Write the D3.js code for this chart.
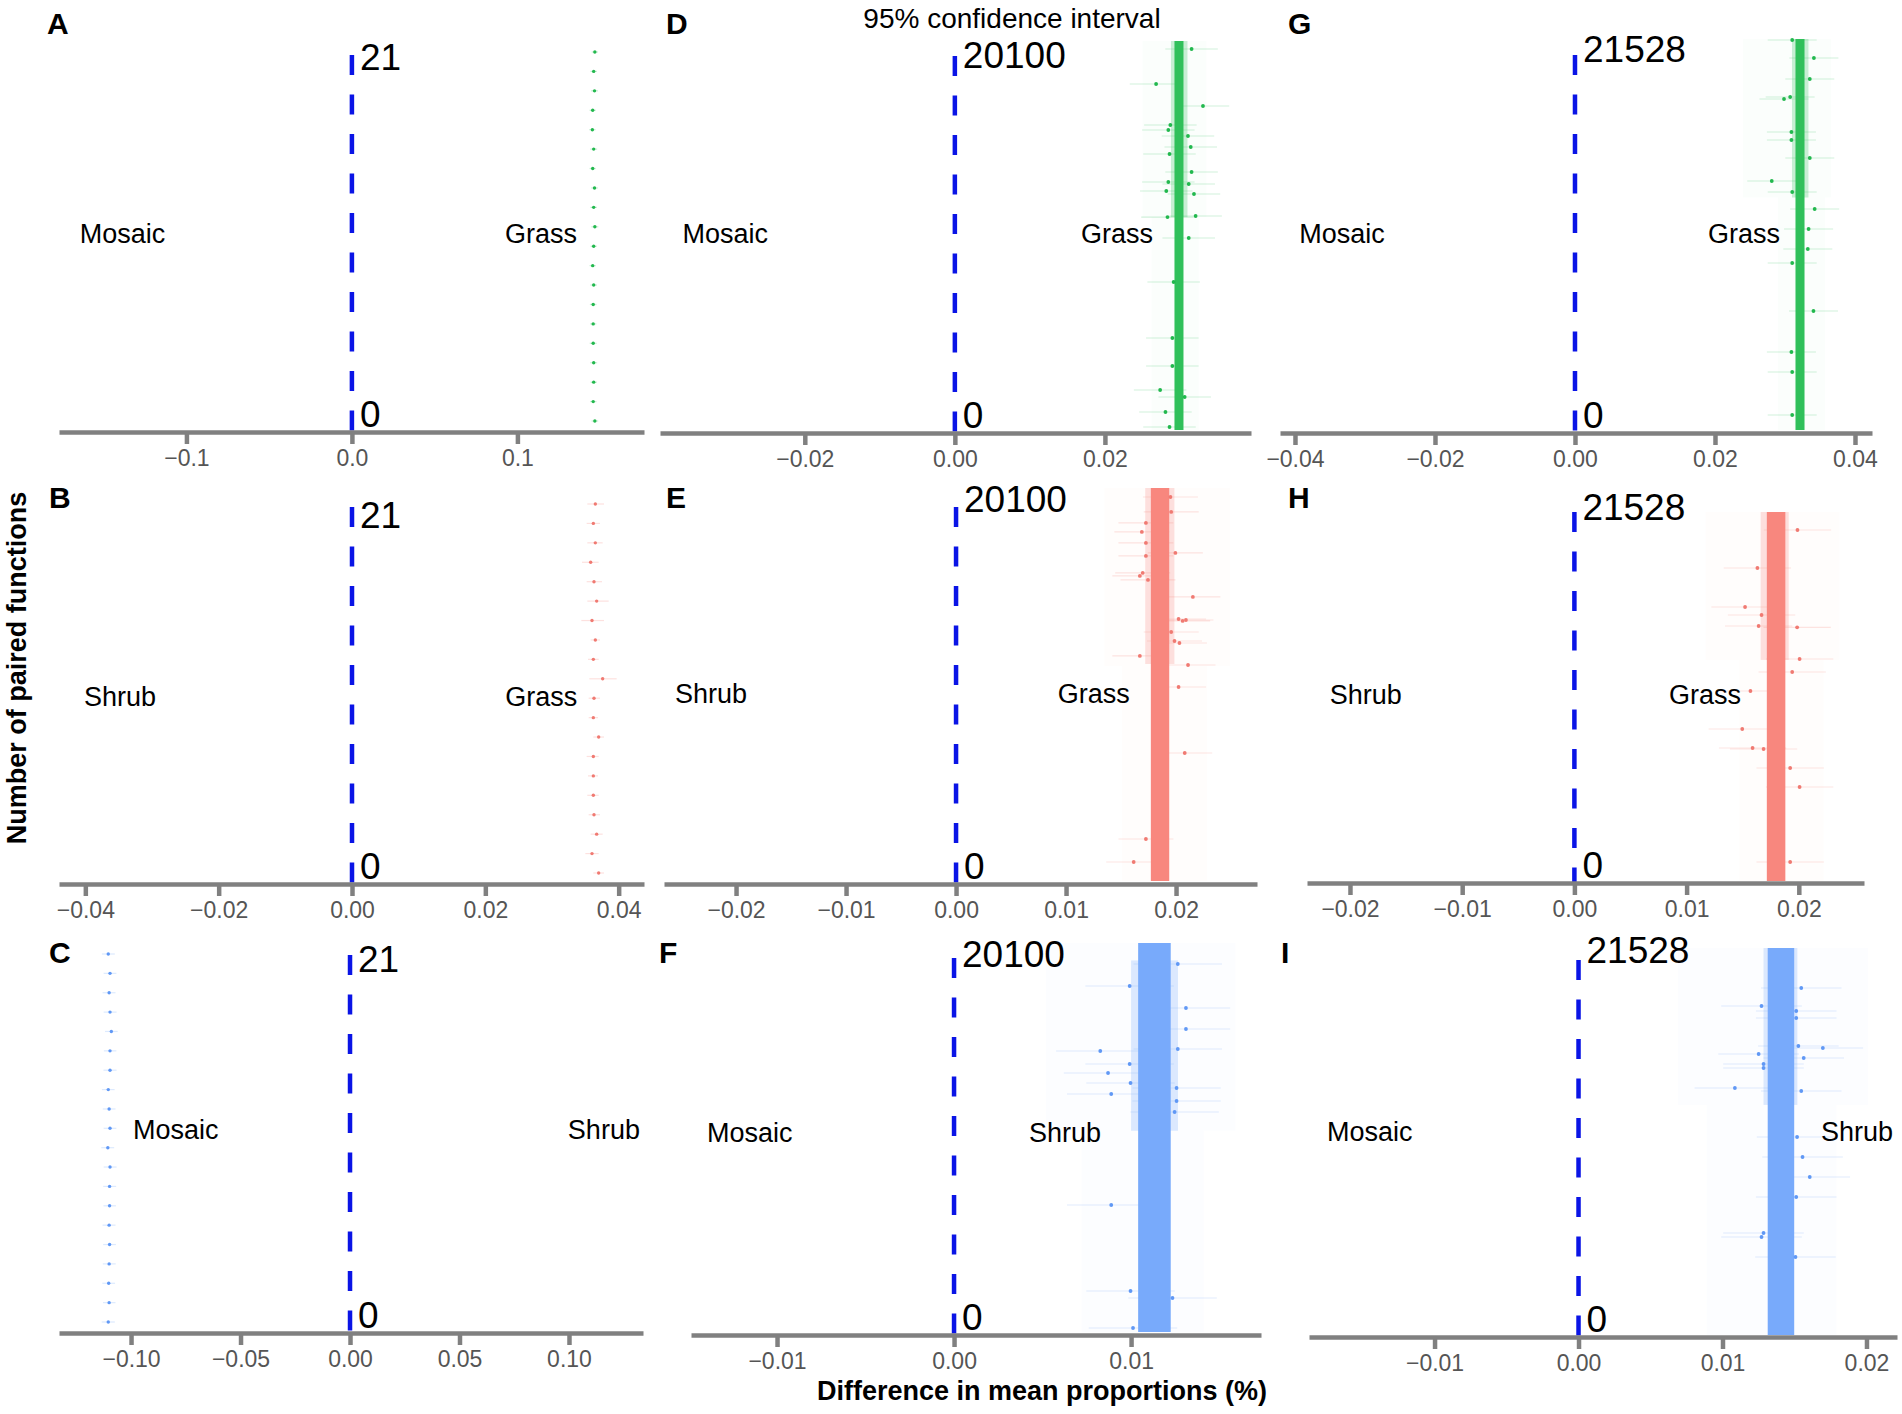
<!DOCTYPE html>
<html>
<head>
<meta charset="utf-8">
<script src="https://cdn.jsdelivr.net/npm/d3@7"></script>
<style>
  body { margin: 0; background: #fff; }
  svg { display: block; font-family: "Liberation Sans", Arial, sans-serif; }
</style>
</head>
<body>
<div id="chart"></div>
<script>
// Nine panels, three comparisons x three datasets
const panelIds = ["A", "B", "C", "D", "E", "F", "G", "H", "I"];
const leftGroups = ["Mosaic", "Shrub", "Mosaic", "Mosaic", "Shrub", "Mosaic", "Mosaic", "Shrub", "Mosaic"];
const rightGroups = ["Grass", "Grass", "Shrub", "Grass", "Grass", "Shrub", "Grass", "Grass", "Shrub"];
const comparison = ["GM", "GS", "SM", "GM", "GS", "SM", "GM", "GS", "SM"];
const pairCounts = [21, 21, 21, 20100, 20100, 20100, 21528, 21528, 21528];
const tickValues = [
  [-0.1, 0, 0.1],
  [-0.04, -0.02, 0, 0.02, 0.04],
  [-0.10, -0.05, 0, 0.05, 0.10],
  [-0.02, 0, 0.02],
  [-0.02, -0.01, 0, 0.01, 0.02],
  [-0.01, 0, 0.01],
  [-0.04, -0.02, 0, 0.02, 0.04],
  [-0.02, -0.01, 0, 0.01, 0.02],
  [-0.01, 0, 0.01, 0.02]
];
const tickFormats = [".1f", ".2f", ".2f", ".2f", ".2f", ".2f", ".2f", ".2f", ".2f"];

// Panels A-C: one point per pair (rank 1 = bottom), with 95% CI
const diffA = [0.1468, 0.1458, 0.1461, 0.1461, 0.1458, 0.1458, 0.1458, 0.1461, 0.1455, 0.1461,
               0.1468, 0.1461, 0.1466, 0.1455, 0.1461, 0.1453, 0.1455, 0.1466, 0.1461, 0.1468];
const loA = [0.1448, 0.1439, 0.1442, 0.1440, 0.1437, 0.1439, 0.1438, 0.1441, 0.1436, 0.1442,
             0.1447, 0.1441, 0.1446, 0.1436, 0.1440, 0.1434, 0.1436, 0.1445, 0.1441, 0.1449];
const hiA = [0.1488, 0.1478, 0.1481, 0.1482, 0.1479, 0.1477, 0.1478, 0.1481, 0.1474, 0.1480,
             0.1489, 0.1481, 0.1486, 0.1474, 0.1482, 0.1472, 0.1474, 0.1487, 0.1481, 0.1487];

const diffB = [0.0370, 0.0360, 0.0367, 0.0363, 0.0362, 0.0362, 0.0362, 0.0370, 0.0362, 0.0363,
               0.0376, 0.0362, 0.0365, 0.0360, 0.0367, 0.0363, 0.0358, 0.0365, 0.0362, 0.0365];
const loB = [0.0362, 0.0350, 0.0358, 0.0355, 0.0353, 0.0354, 0.0352, 0.0362, 0.0355, 0.0355,
             0.0356, 0.0354, 0.0358, 0.0344, 0.0353, 0.0352, 0.0345, 0.0353, 0.0352, 0.0353];
const hiB = [0.0378, 0.0370, 0.0376, 0.0372, 0.0370, 0.0369, 0.0370, 0.0378, 0.0369, 0.0372,
             0.0397, 0.0370, 0.0372, 0.0378, 0.0385, 0.0375, 0.0370, 0.0376, 0.0372, 0.0378];

const diffC = [-0.1104, -0.1100, -0.1102, -0.1100, -0.1098, -0.1100, -0.1098, -0.1098, -0.1096, -0.1106,
               -0.1096, -0.1100, -0.1104, -0.1096, -0.1096, -0.1090, -0.1096, -0.1100, -0.1096, -0.1104];
const loC = [-0.1134, -0.1128, -0.1131, -0.1129, -0.1127, -0.1130, -0.1126, -0.1127, -0.1125, -0.1136,
             -0.1125, -0.1129, -0.1133, -0.1126, -0.1124, -0.1119, -0.1125, -0.1130, -0.1125, -0.1133];
const hiC = [-0.1074, -0.1071, -0.1073, -0.1070, -0.1069, -0.1071, -0.1069, -0.1068, -0.1066, -0.1077,
             -0.1067, -0.1071, -0.1075, -0.1066, -0.1067, -0.1061, -0.1066, -0.1071, -0.1067, -0.1074];

// Panels D-I: dense bands of 20100 / 21528 pairs
// core: [lo, hi] over all ranks; fringe: [fromRank, toRank, lo, hi]; haze (CI spread): two sections
const coreBands = [
  [0.02927, 0.03047], [0.01771, 0.01938], [0.01040, 0.01224],
  [0.03150, 0.03279], [0.01715, 0.01880], [0.01314, 0.01498]
];
const fringeBands = [
  [11000, 20100, 0.02880, 0.03100],
  [11100, 20100, 0.01720, 0.01985],
  [10400, 19200, 0.01000, 0.01265],
  [12800, 21528, 0.03100, 0.03335],
  [12900, 21528, 0.01660, 0.01910],
  [12800, 21528, 0.01285, 0.01520]
];
const hazeBands = [
  [[11000, 20100, 0.0250, 0.0335], [0, 11000, 0.0262, 0.0325]],
  [[11000, 20100, 0.0135, 0.0249], [0, 11000, 0.0151, 0.0228]],
  [[10400, 20100, 0.0052, 0.0159], [0, 10400, 0.0072, 0.0141]],
  [[12800, 21528, 0.0240, 0.0366], [0, 12800, 0.0290, 0.0357]],
  [[12900, 21528, 0.0117, 0.0236], [0, 12900, 0.0147, 0.0222]],
  [[12800, 21528, 0.0069, 0.0201], [0, 12800, 0.0089, 0.0179]]
];
// typical half width of the CI around the stray points
const ciHalfWidth = [0.0035, 0.0025, 0.0025, 0.0035, 0.0030, 0.0028];
// visible stray points: [rank, difference]
const outliersD = [[19686, 0.03155], [17878, 0.02682], [16742, 0.03307], [15760, 0.02872], [15500, 0.02845],
  [15190, 0.03107], [14623, 0.03144], [14261, 0.02861], [13331, 0.03155], [12814, 0.02845], [12711, 0.03117],
  [12349, 0.02818], [12194, 0.03187], [11057, 0.03209], [11000, 0.02834], [9921, 0.03117], [7647, 0.02916],
  [4754, 0.02899], [3307, 0.02899], [2067, 0.02736], [1705, 0.03063], [930, 0.02807], [155, 0.02861]];
const outliersE = [[19640, 0.01949], [18874, 0.01956], [18312, 0.01726], [17851, 0.01689], [17289, 0.01726],
  [16777, 0.01994], [16624, 0.01726], [15754, 0.01697], [15601, 0.01671], [15396, 0.01745], [14527, 0.02153],
  [13401, 0.02023], [13299, 0.02060], [13350, 0.02090], [12736, 0.01956], [12276, 0.01986], [12173, 0.02031],
  [11509, 0.01671], [11048, 0.02109], [9923, 0.02023], [6547, 0.02079], [2148, 0.01726], [972, 0.01615]];
const outliersF = [[19015, 0.01264], [17878, 0.00992], [16741, 0.01310], [15656, 0.01310], [14623, 0.01264],
  [14519, 0.00826], [13848, 0.00992], [13383, 0.00870], [12866, 0.00997], [12608, 0.01257], [12298, 0.00888],
  [11936, 0.01257], [11368, 0.01246], [6562, 0.00888], [2118, 0.00997], [1757, 0.01234], [207, 0.01011]];
const outliersG = [[21473, 0.03103], [20482, 0.03413], [19326, 0.03354], [18335, 0.03074], [18225, 0.02986],
  [16408, 0.03092], [15967, 0.03092], [14976, 0.03354], [13710, 0.02811], [13104, 0.03103], [12168, 0.03424],
  [11067, 0.03337], [9966, 0.03326], [9195, 0.03103], [6552, 0.03407], [4295, 0.03092], [3193, 0.03103],
  [826, 0.03103]];
const outliersH = [[20478, 0.01988], [18260, 0.01631], [15985, 0.01521], [15518, 0.01668], [14877, 0.01642],
  [14800, 0.01985], [12951, 0.02007], [12193, 0.01941], [11085, 0.01569], [8868, 0.01496], [7759, 0.01588],
  [7700, 0.01686], [6592, 0.01923], [5484, 0.02007], [1108, 0.01923]];
const outliersI = [[19304, 0.01547], [18302, 0.01271], [18024, 0.01512], [17635, 0.01512], [16077, 0.01527],
  [15966, 0.01697], [15632, 0.01251], [15410, 0.01564], [15076, 0.01285], [14853, 0.01285], [13741, 0.01086],
  [13574, 0.01547], [11015, 0.01518], [9902, 0.01556], [8790, 0.01606], [7677, 0.01512], [5674, 0.01285],
  [5452, 0.01271], [4339, 0.01507]];

const smallDiff = [diffA, diffB, diffC];
const smallLo = [loA, loB, loC];
const smallHi = [hiA, hiB, hiC];
const outliers = [outliersD, outliersE, outliersF, outliersG, outliersH, outliersI];

// Styles
const pairColors = {GM: "#30c05a", GS: "#f8877e", SM: "#78aafb"};
const dotColors = {GM: "#22b84e", GS: "#f07a72", SM: "#6098f5"};

// Layout (pixels) and label anchors (data units)
const layout = [
  {x0: 59, x1: 644, dom: [-0.1770, 0.1765], axisY: 432, dashTop: 55, ptsTop: 52, ptsBottom: 421, countBase: 70, leftX: -0.1644, rightX: 0.1360, labelBase: 243, lx: 47, ly: 34},
  {x0: 59, x1: 644, dom: [-0.04395, 0.0438], axisY: 884, dashTop: 507, ptsTop: 504, ptsBottom: 873, countBase: 528, leftX: -0.0402, rightX: 0.0338, labelBase: 706, lx: 49, ly: 508},
  {x0: 59, x1: 643, dom: [-0.1329, 0.1338], axisY: 1333, dashTop: 955, ptsTop: 954, ptsBottom: 1322, countBase: 972, leftX: -0.0991, rightX: 0.1324, labelBase: 1139, lx: 49, ly: 963},
  {x0: 660, x1: 1251, dom: [-0.0393, 0.03947], axisY: 433, dashTop: 56, ptsTop: 41, ptsBottom: 430, countBase: 68, leftX: -0.0363, rightX: 0.0264, labelBase: 243, lx: 666, ly: 34},
  {x0: 664, x1: 1257, dom: [-0.02655, 0.02736], axisY: 884, dashTop: 507, ptsTop: 488, ptsBottom: 881, countBase: 512, leftX: -0.02555, rightX: 0.0158, labelBase: 703, lx: 666, ly: 508},
  {x0: 691, x1: 1261, dom: [-0.01486, 0.01734], axisY: 1335, dashTop: 958, ptsTop: 943, ptsBottom: 1332, countBase: 967, leftX: -0.01395, rightX: 0.0083, labelBase: 1142, lx: 659, ly: 963},
  {x0: 1280, x1: 1872, dom: [-0.04214, 0.04243], axisY: 433, dashTop: 55, ptsTop: 39, ptsBottom: 430, countBase: 62, leftX: -0.0394, rightX: 0.0293, labelBase: 243, lx: 1288, ly: 34},
  {x0: 1307, x1: 1864, dom: [-0.02383, 0.02581], axisY: 883, dashTop: 512, ptsTop: 512, ptsBottom: 881, countBase: 520, leftX: -0.0218, rightX: 0.01485, labelBase: 704, lx: 1288, ly: 508},
  {x0: 1309, x1: 1897, dom: [-0.01872, 0.02212], axisY: 1337, dashTop: 960, ptsTop: 948, ptsBottom: 1335, countBase: 963, leftX: -0.01747, rightX: 0.02184, labelBase: 1141, lx: 1281, ly: 963}
];

const width = 1902;
const height = 1414;

const svg = d3.select("#chart")
  .append("svg")
  .attr("width", width)
  .attr("height", height)
  .attr("viewBox", [0, 0, width, height]);

panelIds.forEach((id, i) => {
  const L = layout[i];
  const key = comparison[i];
  const g = svg.append("g").attr("class", "panel panel-" + id);

  const x = d3.scaleLinear().domain(L.dom).range([L.x0, L.x1]);
  let y;

  if (i < 3) {
    // one point per pair with its CI
    const pts = smallDiff[i].map((v, k) => ({rank: k + 1, v: v, lo: smallLo[i][k], hi: smallHi[i][k]}));
    y = d3.scaleLinear().domain([1, pts.length]).range([L.ptsBottom, L.ptsTop]);

    g.selectAll(".ci")
      .data(pts)
      .join("line")
        .attr("class", "ci")
        .attr("x1", d => x(d.lo))
        .attr("x2", d => x(d.hi))
        .attr("y1", d => y(d.rank))
        .attr("y2", d => y(d.rank))
        .attr("stroke", pairColors[key])
        .attr("stroke-opacity", 0.25)
        .attr("stroke-width", 1.2);

    g.selectAll(".pt")
      .data(pts)
      .join("circle")
        .attr("class", "pt")
        .attr("cx", d => x(d.v))
        .attr("cy", d => y(d.rank))
        .attr("r", 1.7)
        .attr("fill", dotColors[key]);
  } else {
    const j = i - 3;
    y = d3.scaleLinear().domain([0, pairCounts[i]]).range([L.ptsBottom, L.ptsTop]);

    // faint spread of the confidence intervals
    g.selectAll(".haze")
      .data(hazeBands[j])
      .join("rect")
        .attr("class", "haze")
        .attr("x", d => x(d[2]))
        .attr("width", d => x(d[3]) - x(d[2]))
        .attr("y", d => y(d[1]))
        .attr("height", d => y(d[0]) - y(d[1]))
        .attr("fill", pairColors[key])
        .attr("fill-opacity", 0.02);

    // CI lines of the stray points
    g.selectAll(".ci")
      .data(outliers[j])
      .join("line")
        .attr("class", "ci")
        .attr("x1", d => x(d[1] - ciHalfWidth[j]))
        .attr("x2", d => x(d[1] + ciHalfWidth[j]))
        .attr("y1", d => y(d[0]))
        .attr("y2", d => y(d[0]))
        .attr("stroke", pairColors[key])
        .attr("stroke-opacity", 0.22)
        .attr("stroke-width", 1.2);

    // bushy upper part of the strip
    g.append("rect")
      .attr("class", "fringe")
      .attr("x", x(fringeBands[j][2]))
      .attr("width", x(fringeBands[j][3]) - x(fringeBands[j][2]))
      .attr("y", y(fringeBands[j][1]))
      .attr("height", y(fringeBands[j][0]) - y(fringeBands[j][1]))
      .attr("fill", pairColors[key])
      .attr("fill-opacity", 0.25);

    // solid core of overlapping points
    g.append("rect")
      .attr("class", "core")
      .attr("x", x(coreBands[j][0]))
      .attr("width", x(coreBands[j][1]) - x(coreBands[j][0]))
      .attr("y", y(pairCounts[i]))
      .attr("height", y(0) - y(pairCounts[i]))
      .attr("fill", pairColors[key]);

    g.selectAll(".pt")
      .data(outliers[j])
      .join("circle")
        .attr("class", "pt")
        .attr("cx", d => x(d[1]))
        .attr("cy", d => y(d[0]))
        .attr("r", 1.9)
        .attr("fill", dotColors[key]);
  }

  // dashed zero line
  g.append("line")
    .attr("x1", x(0))
    .attr("x2", x(0))
    .attr("y1", L.dashTop)
    .attr("y2", L.axisY)
    .attr("stroke", "#0a14e6")
    .attr("stroke-width", 4.5)
    .attr("stroke-dasharray", "20 19.5");

  // x axis
  const axis = g.append("g")
    .attr("transform", `translate(0,${L.axisY})`)
    .call(d3.axisBottom(x)
      .tickValues(tickValues[i])
      .tickFormat(d3.format(tickFormats[i]))
      .tickSize(12)
      .tickSizeOuter(0)
      .tickPadding(6));
  axis.select(".domain").attr("stroke", "#808080").attr("stroke-width", 4.5);
  axis.selectAll(".tick line").attr("stroke", "#808080").attr("stroke-width", 4.5);
  axis.selectAll(".tick text")
    .attr("fill", "#555")
    .attr("font-size", "23px")
    .attr("font-family", "'Liberation Sans', Arial, sans-serif");

  // pair count labels
  g.append("text")
    .attr("x", x(0) + 8)
    .attr("y", L.countBase)
    .attr("font-size", "37px")
    .attr("fill", "#000")
    .text(pairCounts[i]);
  g.append("text")
    .attr("x", x(0) + 8)
    .attr("y", L.axisY - 5)
    .attr("font-size", "37px")
    .attr("fill", "#000")
    .text("0");

  // group labels
  g.append("text")
    .attr("x", x(L.leftX))
    .attr("y", L.labelBase)
    .attr("font-size", "27px")
    .attr("text-anchor", "start")
    .text(leftGroups[i]);
  g.append("text")
    .attr("x", x(L.rightX))
    .attr("y", L.labelBase)
    .attr("font-size", "27px")
    .attr("text-anchor", "end")
    .text(rightGroups[i]);

  // panel letter
  g.append("text")
    .attr("x", L.lx)
    .attr("y", L.ly)
    .attr("font-size", "30px")
    .attr("font-weight", "bold")
    .text(id);
});

// titles
svg.append("text")
  .attr("x", 1012)
  .attr("y", 28)
  .attr("text-anchor", "middle")
  .attr("font-size", "28px")
  .text("95% confidence interval");

svg.append("text")
  .attr("x", 1042)
  .attr("y", 1400)
  .attr("text-anchor", "middle")
  .attr("font-size", "27px")
  .attr("font-weight", "bold")
  .text("Difference in mean proportions (%)");

svg.append("text")
  .attr("transform", "translate(26,668) rotate(-90)")
  .attr("text-anchor", "middle")
  .attr("font-size", "27px")
  .attr("font-weight", "bold")
  .text("Number of paired functions");
</script>
</body>
</html>
